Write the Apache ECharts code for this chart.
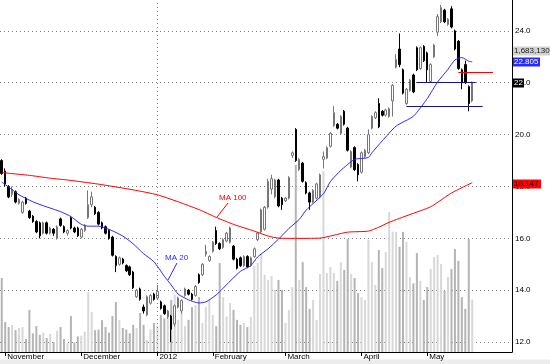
<!DOCTYPE html>
<html><head><meta charset="utf-8">
<script src="https://cdn.jsdelivr.net/npm/echarts@6/dist/echarts.min.js"></script>
<style>html,body{margin:0;padding:0;background:#fff;overflow:hidden;width:550px;height:364px;position:relative}
#c{position:absolute;left:0;top:-25px;width:550px;height:423px}</style>
</head><body><div id="c"></div>
<script>
// ---------------- data ----------------
const tickLabels = ['November','December','2012','February','March','April','May'];
const tickSlots  = [1, 23, 45, 61, 82, 104, 123];
const slotCount  = 148;
const yearLineSlot = 45;

// [open, close, low, high]
const candles = [
[19.0,18.5,18.45,19.05],[18.6,18.1,18.0,18.7],[18.0,17.6,17.55,18.05],[17.7,17.9,17.6,18.0],[17.8,17.4,17.35,17.85],
[17.35,17.5,17.3,17.55],[17.0,17.4,16.95,17.45],[17.55,17.35,17.3,17.6],[17.05,16.8,16.75,17.1],[16.85,16.65,16.6,16.9],
[16.65,16.25,16.2,16.7],[16.6,16.1,16.0,16.65],[16.2,16.6,16.15,16.65],[16.6,16.2,16.15,16.65],[16.2,16.4,16.15,16.45],
[16.35,16.2,16.1,16.4],[16.0,16.45,15.95,16.5],[16.75,16.5,16.45,16.8],[16.45,16.25,16.2,16.5],[16.2,16.3,16.1,16.35],
[16.8,16.4,16.35,16.85],[16.4,16.25,16.2,16.45],[16.4,16.1,16.05,16.45],[16.05,16.35,16.0,16.4],[16.3,16.5,16.25,16.55],
[16.8,17.3,16.75,17.85],[17.3,17.6,17.2,17.8],[17.2,16.95,16.9,17.25],[17.0,16.55,16.5,17.05],[16.6,16.4,16.35,16.65],
[16.45,16.2,16.15,16.5],[16.3,16.0,15.95,16.35],[16.05,15.35,15.3,16.1],[15.3,14.95,14.7,15.35],[15.0,15.25,14.95,15.3],
[15.2,15.05,15.0,15.25],[14.95,14.75,14.7,15.0],[14.9,14.6,14.55,14.95],[14.7,14.1,14.05,14.75],[13.75,14.0,13.7,14.05],
[14.05,13.65,13.6,14.1],[13.35,13.2,13.1,13.45],[13.05,13.75,13.0,13.8],[13.5,13.8,13.45,13.85],[13.85,13.65,13.6,13.9],
[13.7,13.95,13.65,14.2],[13.55,13.3,13.25,13.6],[13.4,13.1,13.05,13.45],[12.98,13.2,12.9,13.25],[13.0,12.5,12.0,13.05],
[12.7,13.4,12.6,13.45],[13.35,13.7,13.3,13.75],[13.2,13.6,13.1,13.65],[13.8,14.05,13.75,14.1],[14.0,13.85,13.8,14.05],
[13.85,13.65,13.6,13.9],[13.8,14.15,13.75,14.2],[14.6,14.3,14.25,14.65],[14.6,15.0,14.55,15.05],[15.4,15.5,15.3,15.75],
[15.15,15.3,15.1,15.35],[15.5,15.85,15.45,15.9],[16.3,15.8,15.75,16.45],[15.8,15.6,15.55,15.85],[15.65,15.95,15.6,16.0],
[15.9,16.2,15.85,16.25],[15.85,16.4,15.8,16.45],[15.7,15.2,15.15,15.75],[15.2,14.85,14.8,15.25],[15.25,14.95,14.9,15.3],
[14.95,15.3,14.9,15.35],[15.3,14.9,14.85,15.35],[14.95,15.25,14.9,15.3],[15.3,15.6,15.25,15.65],[15.95,16.2,15.9,16.25],
[16.25,17.1,16.2,17.15],[16.35,17.2,16.3,17.25],[17.2,18.2,17.15,18.3],[17.9,18.3,17.7,18.45],[17.6,18.25,17.55,18.3],
[18.25,17.25,17.2,18.3],[17.55,17.3,17.1,17.6],[17.45,17.55,17.4,17.6],[17.55,18.35,17.5,18.4],[19.2,19.3,19.1,19.35],
[20.2,19.0,18.95,20.25],[18.65,19.05,18.6,19.1],[18.9,18.2,18.15,18.95],[18.15,17.75,17.7,18.2],[17.75,17.4,17.1,17.8],
[17.4,17.85,17.35,17.9],[17.55,18.1,17.5,18.15],[17.6,18.45,17.55,18.5],[19.05,19.15,18.7,19.35],[19.1,19.5,19.05,19.55],
[19.55,20.05,19.5,20.1],[20.35,20.85,20.3,21.1],[20.4,20.25,20.2,20.45],[20.05,20.7,20.0,20.75],[20.9,20.4,20.35,20.95],
[20.25,19.4,19.35,20.3],[18.75,19.35,18.7,19.4],[19.5,18.65,18.6,19.55],[18.85,18.45,18.2,18.9],[18.55,19.3,18.5,19.35],
[19.15,19.4,19.1,19.45],[19.3,20.0,19.25,20.2],[20.25,20.7,20.2,20.75],[20.65,20.85,20.6,20.9],[21.2,20.3,20.25,21.4],
[20.9,20.75,20.7,20.95],[20.75,20.95,20.7,21.0],[20.7,21.0,20.65,21.05],[21.3,21.9,20.7,21.95],[22.6,22.9,22.55,23.1],
[23.3,22.7,22.6,23.9],[22.5,21.6,21.55,22.55],[21.2,21.75,21.15,21.8],[21.7,22.1,21.65,22.15],[22.3,21.65,21.6,22.35],
[23.35,22.5,22.45,23.4],[22.55,23.35,22.5,23.4],[23.4,22.85,22.8,23.45],[23.15,22.5,22.0,23.2],[22.05,22.7,22.0,22.75],
[23.0,23.45,22.95,23.5],[23.95,24.55,23.8,24.65],[24.35,24.9,24.3,25.0],[24.8,24.35,24.3,24.85],[24.25,24.45,24.2,24.5],
[24.85,24.15,24.1,24.95],[24.0,23.3,23.25,24.05],[23.6,22.55,22.5,23.65],[22.5,22.0,21.75,22.55],[22.7,22.0,21.95,22.85],
[21.85,21.2,20.9,21.9],[21.3,22.0,21.25,22.05]
];

// volume, millions of shares
const volumes = [
2.37,0.96,0.8,0.87,0.7,0.77,0.8,0.42,1.35,0.6,0.83,0.55,0.62,0.45,0.58,0.32,0.68,0.8,0.42,0.29,1.15,0.3,0.5,0.52,0.65,1.92,1.28,0.7,0.72,1.02,0.8,0.62,1.15,
1.6,
1.03,0.77,0.72,0.6,0.87,0.77,1.25,0.87,0.38,0.72,0.93,0.83,1.19,1.08,1.25,1.67,1.83,1.03,1.28,0.83,1.03,1.44,1.5,1.76,0.93,1.44,1.67,1.19,0.83,2.85,1.76,1.14,1.57,
1.35,1.03,0.87,0.93,0.8,1.12,2.76,2.85,3.14,2.47,2.31,2.44,1.99,2.31,1.99,0.93,1.35,2.08,6.0,2.31,2.88,2.08,1.38,1.67,1.03,2.5,5.8,2.53,2.72,2.53,2.28,2.88,
2.63,3.62,2.5,2.37,1.89,1.76,1.67,3.59,
2.88,2.15,3.27,2.69,3.2,4.49,3.86,3.85,3.37,3.85,3.53,2.4,2.2,3.17,2.28,1.67,2.08,2.66,3.04,3.11,2.82,1.96,2.4,2.66,3.3,2.92,1.76,1.38,3.62,1.68313
];

// [bar index, value]
const ma20Points = [
[0,18.17],[2,17.98],[5,17.68],[9,17.41],[12,17.26],[17,17.03],[20,16.84],[23,16.54],[25,16.47],[28,16.47],
[31,16.35],[35,16.09],[38,15.79],[41,15.41],[44,15.10],[47,14.54],[49,14.20],[51,13.85],[54,13.63],[57,13.51],
[59,13.55],[62,13.82],[66,14.35],[69,14.73],[72,14.95],[74,15.29],[77,15.60],[80,15.97],[83,16.38],[86,16.73],
[88,17.09],[93,17.72],[95,18.19],[98,18.62],[102,19.05],[104,19.08],[106,19.12],[107,19.30],[110,19.76],[114,20.33],
[119,20.71],[123,21.39],[126,22.03],[129,22.52],[131,22.88],[133,22.97],[135,22.83],[136,22.805]
];
const ma100Points = [
[0,18.55],[2,18.51],[8,18.43],[14,18.32],[19,18.25],[28,18.09],[38,17.87],[45,17.68],[51,17.41],[57,17.11],
[62,16.81],[67,16.54],[73,16.28],[77,16.09],[80,16.01],[85,16.0],[92,16.01],[95,16.09],[100,16.24],[106,16.28],
[109,16.43],[112,16.62],[118,16.92],[124,17.22],[130,17.75],[136,18.147]
];

// hand-drawn horizontal levels: [from slot, to slot, price]
const supportLines = [[120,137,22.0],[117,139,21.08]];
const resistanceLines = [[132,142,22.41]];

// ---------------- chart ----------------
const OFF = 25; // chart canvas starts 25px above the page
const categories = Array.from({length: slotCount}, () => '');
tickSlots.forEach((s, k) => { categories[s] = tickLabels[k]; });

const volData = volumes.map((v, i) => ({
  value: v,
  itemStyle: { color: candles[i][1] < candles[i][0] ? '#b4b4b4' : '#d8d8d8' }
}));

const FONT = 'Liberation Sans, Arial, sans-serif';
const chart = echarts.init(document.getElementById('c'), null, {renderer: 'canvas'});
const showLabel = (i, v) => v !== '';

const lvl = (arr, color) => arr.map(a => [
  {coord: [a[0], a[2]], lineStyle: {color: color, width: 1, type: 'solid'}},
  {coord: [a[1], a[2]]}
]);

chart.setOption({
  animation: false,
  backgroundColor: '#fff',
  textStyle: {fontFamily: FONT},
  grid: [
    {left: 0, right: 38, top: 0.1, bottom: 0},
    {left: 0, right: 38, top: OFF, bottom: 423 - (OFF + 352)}
  ],
  xAxis: [
    {type: 'category', gridIndex: 0, data: categories, show: false, boundaryGap: true},
    {type: 'category', gridIndex: 1, data: categories, boundaryGap: true,
     axisLine: {show: true, lineStyle: {color: '#000', width: 1}},
     axisTick: {show: true, alignWithLabel: true, length: 4, interval: showLabel, lineStyle: {color: '#000'}},
     axisLabel: {show: true, interval: showLabel, align: 'left', margin: 1, padding: [0,0,0,2],
                 fontSize: 8, color: '#000', fontFamily: FONT},
     splitLine: {show: false}}
  ],
  yAxis: [
    {type: 'value', gridIndex: 0, position: 'right', min: 10, max: 26, interval: 2,
     axisLine: {show: false}, axisTick: {show: false},
     axisLabel: {show: true, margin: 3, fontSize: 8, color: '#000', fontFamily: FONT,
                 formatter: v => v.toFixed(1)},
     splitLine: {show: true, lineStyle: {color: '#808080', type: [1, 3], width: 1}}},
    {type: 'value', gridIndex: 1, position: 'right', min: 0, max: 11.28,
     axisLine: {show: true, lineStyle: {color: '#000', width: 1}},
     axisTick: {show: false}, axisLabel: {show: false}, splitLine: {show: false}}
  ],
  series: [
    {type: 'bar', xAxisIndex: 1, yAxisIndex: 1, data: volData, barWidth: 2, z: 1,
     markLine: {silent: true, symbol: 'none', label: {show: false},
                lineStyle: {color: '#808080', type: [1, 3], width: 1},
                data: [{xAxis: yearLineSlot}]}},
    {type: 'candlestick', xAxisIndex: 0, yAxisIndex: 0, data: candles, barWidth: 2, z: 4,
     itemStyle: {color: '#fff', color0: '#000', borderColor: '#777', borderColor0: '#000', borderWidth: 1},
     markLine: {silent: true, symbol: 'none', label: {show: false}, z: 6,
                data: lvl(supportLines, '#14148c').concat(lvl(resistanceLines, '#ff0000'))}},
    {type: 'line', xAxisIndex: 0, yAxisIndex: 0, data: ma20Points, showSymbol: false, symbol: 'none',
     smooth: 0.2, z: 5, lineStyle: {color: '#2a2aff', width: 1}},
    {type: 'line', xAxisIndex: 0, yAxisIndex: 0, data: ma100Points, showSymbol: false, symbol: 'none',
     smooth: 0.2, z: 5, lineStyle: {color: '#ff0000', width: 1}}
  ]
});

// value tags on the right axis, placed through the price scale
const yOf = v => chart.convertToPixel({yAxisIndex: 0}, v);
const lastClose = candles[candles.length - 1][1];
const lastMa20 = ma20Points[ma20Points.length - 1][1];
const lastMa100 = ma100Points[ma100Points.length - 1][1];
const lastVol = volumes[volumes.length - 1];
const yMa20 = yOf(lastMa20), yClose = yOf(lastClose), yMa100 = yOf(lastMa100);
const tagFont = '8px ' + FONT;
const tag = (y, w, bg, fg, txt) => ([
  {type: 'rect', z: 20, shape: {x: 513, y: Math.round(y) - 4.5, width: w, height: 9}, style: {fill: bg}},
  {type: 'text', z: 21, x: 514, y: Math.round(y), style: {text: txt, fill: fg, font: tagFont, textVerticalAlign: 'middle'}}
]);

chart.setOption({
  graphic: [
    {type: 'rect', z: -5, shape: {x: 0, y: OFF + 359.5, width: 550, height: 5}, style: {fill: '#ececec'}},
    ...tag(yMa20 - 11, 37, '#d2d2d2', '#222', Math.round(lastVol * 1e6).toLocaleString('en-US')),
    ...tag(yMa20, 27, '#2a2aff', '#fff', lastMa20.toFixed(3)),
    ...tag(yClose, 11, '#000', '#fff', String(Math.round(lastClose))),
    ...tag(yMa100 + 1, 28, '#ff0000', '#000', lastMa100.toFixed(3)),
    {type: 'text', z: 20, x: 219, y: OFF + 194, style: {text: 'MA 100', fill: '#ff0000', font: tagFont}},
    {type: 'line', z: 20, shape: {x1: 228, y1: OFF + 203, x2: 217, y2: OFF + 217}, style: {stroke: '#ff0000', lineWidth: 1}},
    {type: 'text', z: 20, x: 165, y: OFF + 254, style: {text: 'MA 20', fill: '#2a2aff', font: tagFont}},
    {type: 'line', z: 20, shape: {x1: 177, y1: OFF + 263, x2: 168, y2: OFF + 280}, style: {stroke: '#2a2aff', lineWidth: 1}}
  ]
});
</script>
</body></html>
